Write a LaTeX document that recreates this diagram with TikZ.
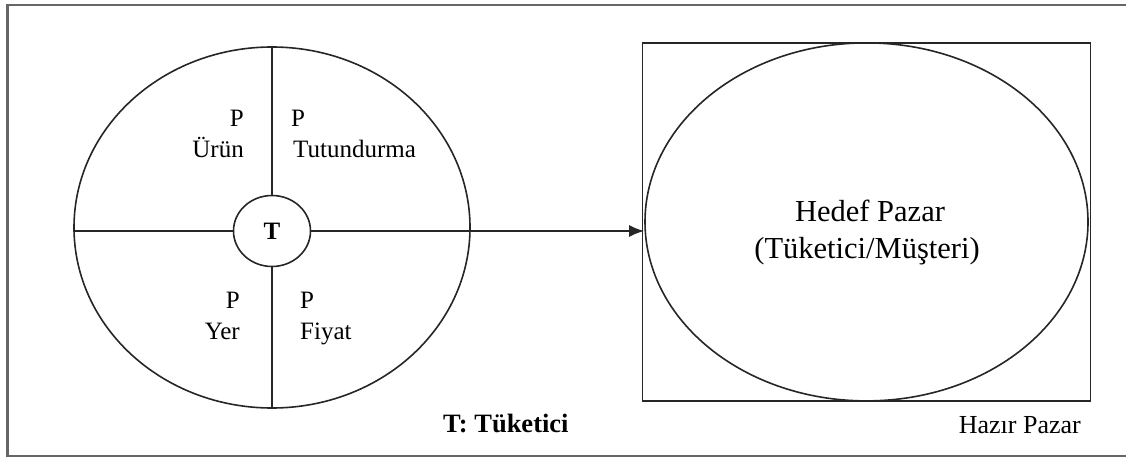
\documentclass[tikz,border=0pt]{standalone}
\usepackage{fontspec}
\setmainfont{Liberation Serif}
\usetikzlibrary{arrows.meta,shapes.geometric}
\begin{document}
\begin{tikzpicture}[x=1pt,y=-1pt,
  ln/.style={line width=1.6pt, draw=black!85},
  lbl/.style={font=\fontsize{25}{30}\selectfont, inner sep=0pt},
  bigl/.style={font=\fontsize{30.5}{37}\selectfont, inner sep=0pt}]
\clip (0,0) rectangle (1126,457);
\useasboundingbox (0,0) rectangle (1126,457);
\draw[line width=2.2pt, draw=black!60] (7.5,4.7) rectangle (1150,456);
% marketing mix
\node (mix) [ellipse, ln, draw, minimum width=396pt, minimum height=361pt, inner sep=0pt] at (272,227.5) {};
\node (t) [ellipse, ln, draw, minimum width=77pt, minimum height=71pt, inner sep=0pt, font=\fontsize{25}{30}\selectfont\bfseries] at (272,231) {T};
\draw[ln] (t.north) -- (t.north |- mix.north);
\draw[ln] (t.south) -- (t.south |- mix.south);
\draw[ln] (t.west) -- (t.west -| mix.west);
% target market
\node (rect) [draw, ln, rectangle, minimum width=448pt, minimum height=358pt, inner sep=0pt] at (866.5,221.9) {};
\node (hp) [ellipse, ln, draw, minimum width=443pt, minimum height=358pt, inner sep=0pt] at (866.5,221.9) {};
\draw[ln, line width=1.8pt, -{Latex[length=15pt,width=12pt]}] (t.east) -- (t.east -| hp.west);
% labels
\node (p1) [lbl, anchor=base east] at (244,127) {P};
\node (urun) [lbl, anchor=base east] at (244,158) {Ürün};
\node (p2) [lbl, anchor=base west] at (291,127) {P};
\node (tut) [lbl, anchor=base west] at (293,158) {Tutundurma};
\node (p3) [lbl, anchor=base east] at (240,308) {P};
\node (yer) [lbl, anchor=base east] at (240,339) {Yer};
\node (p4) [lbl, anchor=base west] at (300,308) {P};
\node (fiy) [lbl, anchor=base west] at (300,339) {Fiyat};
\node (leg) [lbl, anchor=base west, font=\fontsize{26.5}{30}\selectfont\bfseries] at (443,432) {T: Tüketici};
\node (haz) [lbl, anchor=base east, font=\fontsize{26}{30}\selectfont] at (1081,433) {Hazır Pazar};
\node (hed) [bigl, anchor=base] at (870,221) {Hedef Pazar};
\node (tuk) [bigl, anchor=base] at (867,258) {(Tüketici/Müşteri)};
\end{tikzpicture}
\end{document}
